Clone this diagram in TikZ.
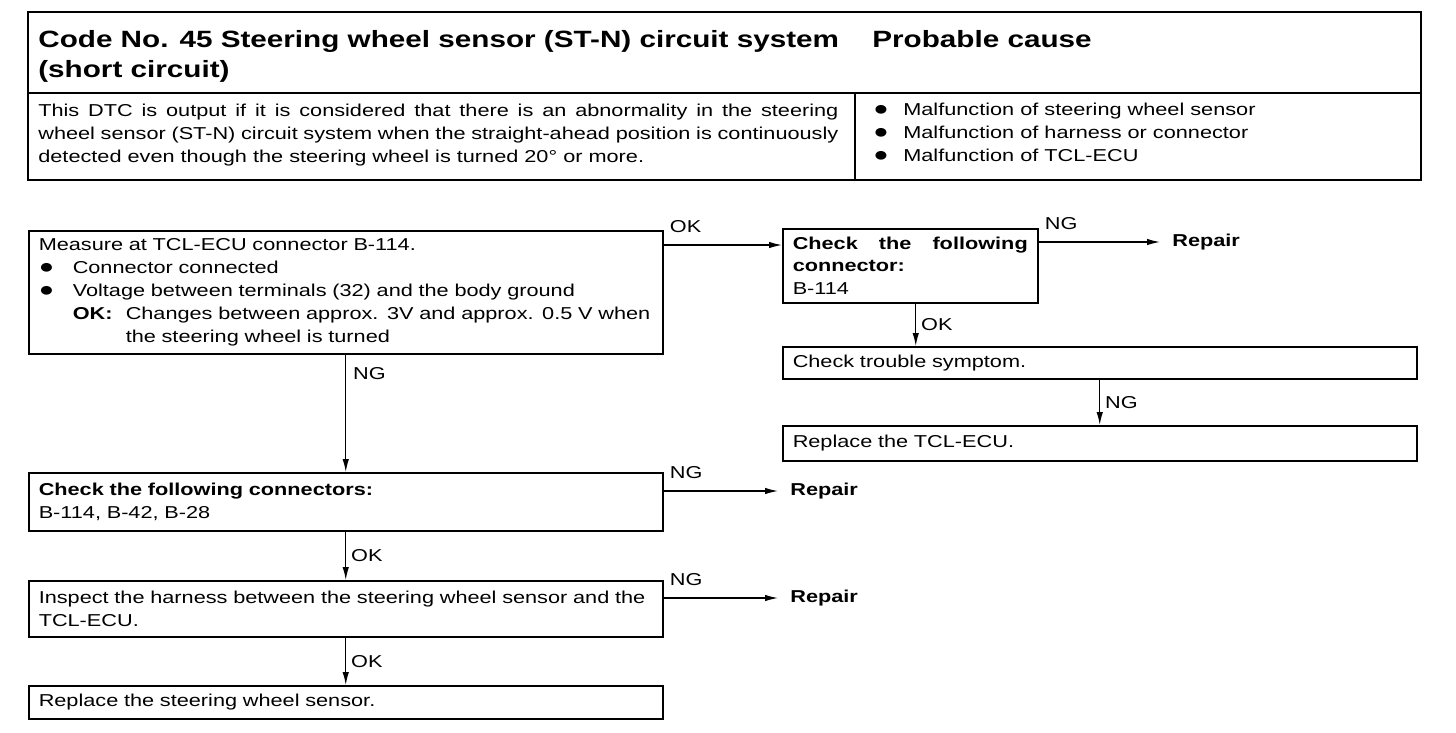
\documentclass[tikz,border=0pt]{standalone}
\usepackage{fontspec}
\setmainfont{Liberation Sans}[FakeStretch=1.26]
\usetikzlibrary{arrows.meta, positioning}

\newcommand{\bodyfont}{\fontsize{9.8}{13}\selectfont}
\newcommand{\headfont}{\fontsize{13.4}{17}\selectfont\bfseries}
\newcommand{\blt}[1][6.8mm]{\makebox[#1][l]{\fontsize{11.5}{13}\selectfont●}}
\hyphenpenalty=10000
\exhyphenpenalty=10000

\begin{document}
\begin{tikzpicture}[
  x=0.2mm, y=-0.2mm,
  box/.style={rectangle, draw, line width=0.3mm, anchor=north west, inner xsep=2mm, inner ysep=0pt, font=\bodyfont},
  widebox/.style={box, minimum width=126.8mm, text width=122.8mm, align=left},
  arrow/.style={-{Latex[length=2.6mm, width=1.3mm]}, line width=0.25mm},
  lbl/.style={font=\bodyfont, inner sep=1pt},
  repair/.style={font=\bodyfont\bfseries, anchor=west, inner xsep=2.4mm, inner ysep=0pt}
]
  \useasboundingbox (0,0) rectangle (1456,732);

  % header table
  \draw[line width=0.4mm] (28,12) rectangle (1421,180);
  \draw[line width=0.3mm] (28,93) -- (1421,93);
  \draw[line width=0.3mm] (855,93) -- (855,180);
  \node[anchor=north west, inner sep=0pt, font=\headfont, align=left] (title) at (38,30)
    {Code No. 45 Steering wheel sensor (ST-N) circuit system\\(short circuit)};
  \node[anchor=north west, inner sep=0pt, font=\headfont] (cause) at (872,30) {Probable cause};
  \node[anchor=north west, inner sep=0pt, font=\bodyfont, text width=160mm, align=justify] (dtc) at (38,104)
    {This DTC is output if it is considered that there is an abnormality in the steering\linebreak
     wheel sensor (ST-N) circuit system when the straight-ahead position is continuously\linebreak
     detected even though the steering wheel is turned 20° or more.};
  \node[anchor=north west, inner sep=0pt, font=\bodyfont, align=left] (causes) at (873,103)
    {\blt[6mm]Malfunction of steering wheel sensor\\
     \blt[6mm]Malfunction of harness or connector\\
     \blt[6mm]Malfunction of TCL-ECU};

  % flow
  \node[widebox, minimum height=24.6mm] (measure) at (28,230)
    {Measure at TCL-ECU connector B-114.\\
     \blt Connector connected\\
     \blt Voltage between terminals (32) and the body ground\\
     \hspace*{6.8mm}\makebox[10.6mm][l]{\textbf{OK:}}Changes between approx. 3V and approx. 0.5 V when\\
     \hspace*{17.4mm}the steering wheel is turned};
  \node[box, minimum width=51mm, minimum height=14.8mm, text width=47mm, align=justify] (chkone) at (782,228)
    {\textbf{Check the following\linebreak connector:}\\B-114};
  \node[widebox, minimum height=6.4mm] (symptom) at (782,346) {Check trouble symptom.};
  \node[widebox, minimum height=7mm] (ecu) at (782,425) {Replace the TCL-ECU.};
  \node[widebox, minimum height=11.6mm] (chkall) at (28,472)
    {\textbf{Check the following connectors:}\\B-114, B-42, B-28};
  \node[widebox, minimum height=11.2mm] (harness) at (28,580)
    {Inspect the harness between the steering wheel sensor and the\\TCL-ECU.};
  \node[widebox, minimum height=6.6mm] (sensor) at (28,685) {Replace the steering wheel sensor.};

  \node[repair] (repone) at (1160,242) {Repair};
  \node[repair] (reptwo) at (778,491) {Repair};
  \node[repair] (repthree) at (778,598) {Repair};

  \coordinate (okout) at ([yshift=-3mm]measure.north east);
  \coordinate (ngone) at ([yshift=-2.8mm]chkone.north east);
  \coordinate (okdown) at ([xshift=1.1mm]chkone.south);
  \coordinate (ngtwo) at ([yshift=-3.8mm]chkall.north east);
  \coordinate (ngthree) at ([yshift=-3.6mm]harness.north east);

  \draw[arrow] (okout) -- (okout -| chkone.west)
    node[lbl, pos=0, anchor=south west, xshift=0.8mm, yshift=2mm] {OK};
  \draw[arrow] (ngone) -- (ngone -| repone.west)
    node[lbl, pos=0, anchor=south west, xshift=0.8mm, yshift=2mm] {NG};
  \draw[arrow] (okdown) -- (okdown |- symptom.north)
    node[lbl, midway, anchor=west, xshift=0.6mm] {OK};
  \draw[arrow] (symptom) -- (ecu)
    node[lbl, midway, anchor=west, xshift=0.6mm] {NG};
  \draw[arrow] (measure) -- (chkall)
    node[lbl, pos=0.16, anchor=west, xshift=1mm] {NG};
  \draw[arrow] (ngtwo) -- (ngtwo -| reptwo.west)
    node[lbl, pos=0, anchor=south west, xshift=0.8mm, yshift=2mm] {NG};
  \draw[arrow] (chkall) -- (harness)
    node[lbl, midway, anchor=west, xshift=0.6mm] {OK};
  \draw[arrow] (ngthree) -- (ngthree -| repthree.west)
    node[lbl, pos=0, anchor=south west, xshift=0.8mm, yshift=2mm] {NG};
  \draw[arrow] (harness) -- (sensor)
    node[lbl, midway, anchor=west, xshift=0.6mm] {OK};
\end{tikzpicture}
\end{document}
